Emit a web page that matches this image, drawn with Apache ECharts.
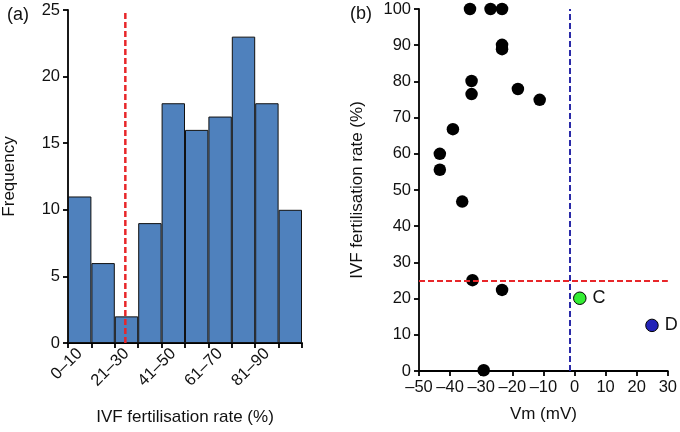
<!DOCTYPE html>
<html><head><meta charset="utf-8">
<script src="https://cdn.jsdelivr.net/npm/echarts@6/dist/echarts.min.js"></script>
<style>html,body{margin:0;padding:0;background:#fff}#c{width:680px;height:432px}</style>
</head><body><div id="c"></div>
<script>
const binLabels = ['0–10','11–20','21–30','31–40','41–50','51–60','61–70','71–80','81–90','91–100'];
const frequency = [11, 6, 2, 9, 18, 16, 17, 23, 18, 10];
const histCutoff = 24.5; // red dashed line position on 0–100 scale
const vmBlack = [-33.6,-27.0,-23.3,-23.3,-23.3,-33.1,-33.1,-18.2,-11.2,-39.1,-43.3,-43.3,-36.1,-32.8,-23.3,-29.2];
const ivfBlack = [100,100,100,90.1,88.9,80.1,76.5,77.9,74.9,66.8,60,55.6,46.8,25.1,22.4,0.2];
const pointC = [1.7, 20.1];
const pointD = [24.9, 12.6];
const vmCutoff = -1.5;
const ivfCutoff = 25;

const F = 'Liberation Sans, Arial, sans-serif';
const axisLine = {show:true,onZero:false,lineStyle:{color:'#000',width:1.8}};
const tick = {show:true,inside:false,length:5,lineStyle:{color:'#000',width:1.8}};
const lab = {color:'#111',fontSize:16.5,fontFamily:F};
const nameStyle = {fontSize:17,color:'#111',fontFamily:F};
const dash = s => s.replace(/-/g,'–');

const chart = echarts.init(document.getElementById('c'));
chart.setOption({
  animation:false,
  textStyle:{fontFamily:F},
  title:[
    {text:'(a)',left:2,top:1,textStyle:{fontSize:18,fontWeight:'normal',color:'#111',fontFamily:F}},
    {text:'(b)',left:345,top:0,textStyle:{fontSize:18,fontWeight:'normal',color:'#111',fontFamily:F}}
  ],
  grid:[
    {left:68,top:10,width:234,height:333},
    {left:419,top:9,width:249,height:362}
  ],
  xAxis:[
    {gridIndex:0,type:'category',data:binLabels,boundaryGap:true,
     axisLine:axisLine,axisTick:Object.assign({},tick,{interval:0}),
     axisLabel:Object.assign({},lab,{interval:1,rotate:45,margin:8}),
     name:'IVF fertilisation rate (%)',nameLocation:'middle',nameGap:66,
     nameTextStyle:nameStyle},
    {gridIndex:0,type:'value',min:0,max:100,show:false},
    {gridIndex:1,type:'value',min:-50,max:30,interval:10,
     axisLine:axisLine,axisTick:tick,splitLine:{show:false},
     axisLabel:Object.assign({},lab,{formatter:v=>dash(String(v)),margin:8}),
     name:'Vm (mV)',nameLocation:'middle',nameGap:35,
     nameTextStyle:nameStyle}
  ],
  yAxis:[
    {gridIndex:0,type:'value',min:0,max:25,interval:5,
     axisLine:axisLine,axisTick:tick,splitLine:{show:false},
     axisLabel:Object.assign({},lab,{margin:8}),
     name:'Frequency',nameLocation:'middle',nameGap:50,
     nameTextStyle:nameStyle},
    {gridIndex:0,type:'value',min:0,max:25,show:false},
    {gridIndex:1,type:'value',min:0,max:100,interval:10,
     axisLine:axisLine,axisTick:tick,splitLine:{show:false},
     axisLabel:Object.assign({},lab,{margin:8}),
     name:'IVF fertilisation rate (%)',nameLocation:'middle',nameGap:53,
     nameTextStyle:nameStyle}
  ],
  series:[
    {type:'bar',xAxisIndex:0,yAxisIndex:0,data:frequency,barCategoryGap:'0%',
     itemStyle:{color:'#4f81bd',borderColor:'#111',borderWidth:1}},
    {type:'line',xAxisIndex:1,yAxisIndex:1,data:[[histCutoff,0],[histCutoff,25]],
     symbol:'none',lineStyle:{color:'#e8262a',type:[6,3],width:2.5},z:5},
    {type:'scatter',xAxisIndex:2,yAxisIndex:2,clip:false,symbolSize:12.5,
     data:vmBlack.map((v,i)=>[v,ivfBlack[i]]),itemStyle:{color:'#000',opacity:1},
     markLine:{silent:true,symbol:'none',label:{show:false},
       data:[{xAxis:vmCutoff,lineStyle:{color:'#2a2aa8',type:[6,3],width:2}},
             {yAxis:ivfCutoff,lineStyle:{color:'#e8262a',type:[6,3],width:2}}]}},
    {type:'scatter',xAxisIndex:2,yAxisIndex:2,clip:false,symbolSize:12.5,
     data:[pointC],itemStyle:{color:'#33ee33',borderColor:'#000',borderWidth:1,opacity:1},
     label:{show:true,position:'right',formatter:'C',fontSize:18,color:'#111',fontFamily:F,distance:6}},
    {type:'scatter',xAxisIndex:2,yAxisIndex:2,clip:false,symbolSize:12.5,
     data:[pointD],itemStyle:{color:'#2323b8',borderColor:'#000',borderWidth:1,opacity:1},
     label:{show:true,position:'right',formatter:'D',fontSize:18,color:'#111',fontFamily:F,distance:6}}
  ]
});
</script></body></html>
